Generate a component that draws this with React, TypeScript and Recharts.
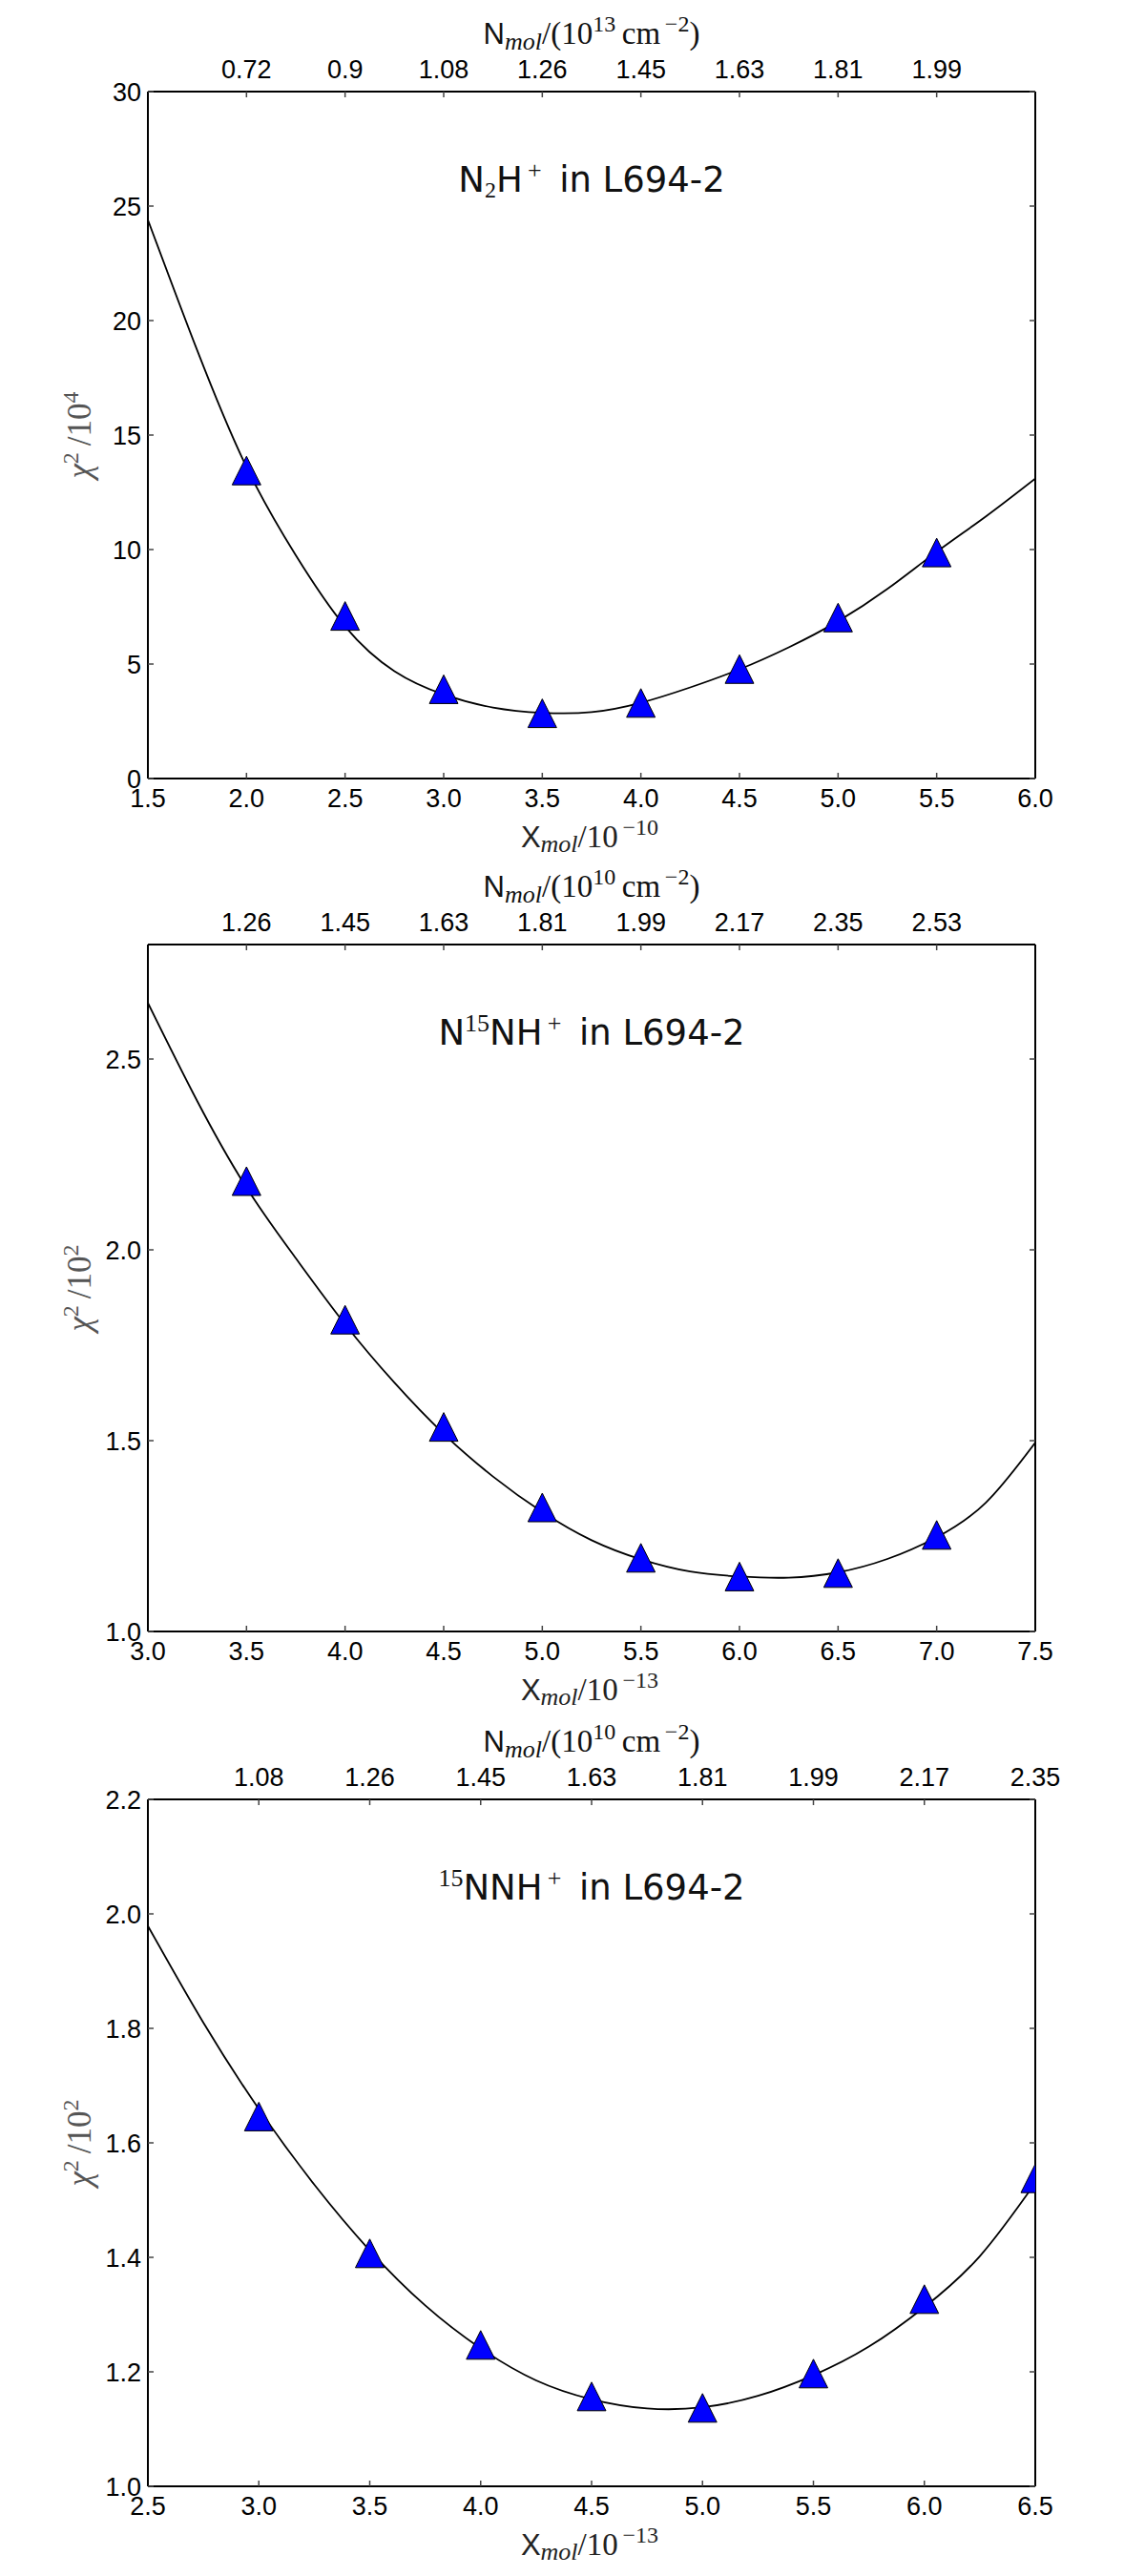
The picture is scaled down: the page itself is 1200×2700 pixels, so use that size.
import React from 'react';
import { ComposedChart, Line, Scatter, XAxis, YAxis } from 'recharts';

// ---------- Data ----------
// Panel 1: N2H+ in L694-2
const xMol1 = [2.0, 2.5, 3.0, 3.5, 4.0, 4.5, 5.0, 5.5];
const chi1 = [13.45, 7.1, 3.9, 2.85, 3.3, 4.78, 7.03, 9.87];
const fitX1 = [1.5, 1.75, 2.0, 2.25, 2.5, 2.75, 3.0, 3.25, 3.5, 3.75, 4.0, 4.25, 4.5, 4.75, 5.0, 5.25, 5.5, 5.75, 6.0];
const fitY1 = [24.4, 18.7, 13.6, 9.75, 6.64, 4.69, 3.67, 3.1, 2.87, 2.9, 3.31, 3.98, 4.77, 5.73, 6.87, 8.28, 9.9, 11.45, 13.1];
const xTicks1 = [1.5, 2.0, 2.5, 3.0, 3.5, 4.0, 4.5, 5.0, 5.5, 6.0];
const yTicks1 = [0, 5, 10, 15, 20, 25, 30];
const topPos1 = [2.0, 2.5, 3.0, 3.5, 4.0, 4.5, 5.0, 5.5];
const topLabels1 = ['0.72', '0.9', '1.08', '1.26', '1.45', '1.63', '1.81', '1.99'];

// Panel 2: N15NH+ in L694-2
const xMol2 = [3.5, 4.0, 4.5, 5.0, 5.5, 6.0, 6.5, 7.0];
const chi2 = [2.18, 1.817, 1.536, 1.325, 1.193, 1.144, 1.153, 1.253];
const fitX2 = [3.0, 3.25, 3.5, 3.75, 4.0, 4.25, 4.5, 4.75, 5.0, 5.25, 5.5, 5.75, 6.0, 6.25, 6.5, 6.75, 7.0, 7.25, 7.5];
const fitY2 = [2.647, 2.39, 2.163, 1.978, 1.805, 1.652, 1.518, 1.406, 1.313, 1.239, 1.189, 1.157, 1.144, 1.141, 1.155, 1.19, 1.247, 1.338, 1.495];
const xTicks2 = [3.0, 3.5, 4.0, 4.5, 5.0, 5.5, 6.0, 6.5, 7.0, 7.5];
const yTicks2 = [1.0, 1.5, 2.0, 2.5];
const topPos2 = [3.5, 4.0, 4.5, 5.0, 5.5, 6.0, 6.5, 7.0];
const topLabels2 = ['1.26', '1.45', '1.63', '1.81', '1.99', '2.17', '2.35', '2.53'];

// Panel 3: 15NNH+ in L694-2
const xMol3 = [3.0, 3.5, 4.0, 4.5, 5.0, 5.5, 6.0, 6.5];
const chi3 = [1.646, 1.407, 1.247, 1.157, 1.137, 1.197, 1.327, 1.538];
const fitX3 = [2.5, 2.75, 3.0, 3.25, 3.5, 3.75, 4.0, 4.25, 4.5, 4.75, 5.0, 5.25, 5.5, 5.75, 6.0, 6.25, 6.5];
const fitY3 = [1.979, 1.81, 1.659, 1.527, 1.412, 1.316, 1.241, 1.185, 1.152, 1.136, 1.138, 1.158, 1.194, 1.244, 1.313, 1.402, 1.53];
const xTicks3 = [2.5, 3.0, 3.5, 4.0, 4.5, 5.0, 5.5, 6.0, 6.5];
const yTicks3 = [1.0, 1.2, 1.4, 1.6, 1.8, 2.0, 2.2];
const topPos3 = [3.0, 3.5, 4.0, 4.5, 5.0, 5.5, 6.0, 6.5];
const topLabels3 = ['1.08', '1.26', '1.45', '1.63', '1.81', '1.99', '2.17', '2.35'];

// ---------- Styling ----------
const SANS = "'Liberation Sans', Arial, Helvetica, sans-serif";
const SERIF = "'Liberation Serif', 'DejaVu Serif', serif";
const TITLE_FONT = "'DejaVu Sans', sans-serif";
const W = 1200;
const H = 896;
const PANEL_TOPS = [0, 894, 1790];

type Seg = { t: string; m?: 'sub' | 'sup'; f?: string; s?: number; i?: boolean };

function Rich({ segs, sup, sub }: { segs: Seg[]; sup: number; sub: number }) {
  let cur = 0;
  return (
    <>
      {segs.map((sg, k) => {
        const target = sg.m === 'sup' ? -sup : sg.m === 'sub' ? sub : 0;
        const dy = target - cur;
        cur = target;
        return (
          <tspan key={k} dy={dy} fontFamily={sg.f} fontSize={sg.s} fontStyle={sg.i ? 'italic' : 'normal'}>
            {sg.t}
          </tspan>
        );
      })}
    </>
  );
}

const Triangle = (props: any) => {
  const { cx, cy } = props;
  if (cx == null || cy == null) return null;
  const s = 15;
  return (
    <polygon
      points={`${cx},${cy - s} ${cx - s},${cy + s} ${cx + s},${cy + s}`}
      fill="#0000ff"
      stroke="#000"
      strokeWidth={1}
      strokeLinejoin="miter"
    />
  );
};

type PanelCfg = {
  pts: { x: number; y: number }[];
  fit: { x: number; y: number }[];
  xDomain: [number, number];
  yDomain: [number, number];
  xTicks: number[];
  yTicks: number[];
  yFmt: (v: number) => string;
  topPos: number[];
  topLabels: string[];
  title: Seg[];
  topExp: string;
  xExp: string;
  yExp: string;
};

const zip = (xs: number[], ys: number[]) => xs.map((x, i) => ({ x, y: ys[i] }));

const panels: PanelCfg[] = [
  {
    pts: zip(xMol1, chi1),
    fit: zip(fitX1, fitY1),
    xDomain: [1.5, 6.0],
    yDomain: [0, 30],
    xTicks: xTicks1,
    yTicks: yTicks1,
    yFmt: (v) => String(v),
    topPos: topPos1,
    topLabels: topLabels1,
    title: [
      { t: 'N' },
      { t: '2', m: 'sub', f: SERIF, s: 24 },
      { t: 'H' },
      { t: '\u2009+', m: 'sup', f: SERIF, s: 26 },
      { t: '\u2002in L694-2' },
    ],
    topExp: '13',
    xExp: '10',
    yExp: '4',
  },
  {
    pts: zip(xMol2, chi2),
    fit: zip(fitX2, fitY2),
    xDomain: [3.0, 7.5],
    yDomain: [1.0, 2.8],
    xTicks: xTicks2,
    yTicks: yTicks2,
    yFmt: (v) => v.toFixed(1),
    topPos: topPos2,
    topLabels: topLabels2,
    title: [
      { t: 'N' },
      { t: '15', m: 'sup', f: SERIF, s: 26 },
      { t: 'NH' },
      { t: '\u2009+', m: 'sup', f: SERIF, s: 26 },
      { t: '\u2002in L694-2' },
    ],
    topExp: '10',
    xExp: '13',
    yExp: '2',
  },
  {
    pts: zip(xMol3, chi3),
    fit: zip(fitX3, fitY3),
    xDomain: [2.5, 6.5],
    yDomain: [1.0, 2.2],
    xTicks: xTicks3,
    yTicks: yTicks3,
    yFmt: (v) => v.toFixed(1),
    topPos: topPos3,
    topLabels: topLabels3,
    title: [
      { t: '15', m: 'sup', f: SERIF, s: 26 },
      { t: 'NNH' },
      { t: '\u2009+', m: 'sup', f: SERIF, s: 26 },
      { t: '\u2002in L694-2' },
    ],
    topExp: '10',
    xExp: '13',
    yExp: '2',
  },
];

const tickStyle = { fill: '#000', fontSize: 27, fontFamily: SANS };
const axisLineStyle = { stroke: '#000', strokeWidth: 2 };
const tickLineStyle = { stroke: '#444', strokeWidth: 1.5 };

function Panel({ cfg }: { cfg: PanelCfg }) {
  return (
    <div style={{ position: 'relative', width: W, height: H }}>
      <ComposedChart width={W} height={H} margin={{ top: 0, right: 0, bottom: 0, left: 0 }}>
        <XAxis
          xAxisId="bottom"
          orientation="bottom"
          type="number"
          dataKey="x"
          domain={cfg.xDomain}
          allowDataOverflow
          ticks={cfg.xTicks}
          interval={0}
          height={80}
          tickFormatter={(v: number) => v.toFixed(1)}
          tick={tickStyle}
          tickSize={-6}
          tickMargin={17}
          axisLine={axisLineStyle}
          tickLine={tickLineStyle}
        />
        <XAxis
          xAxisId="top"
          orientation="top"
          type="number"
          dataKey="x"
          domain={cfg.xDomain}
          allowDataOverflow
          ticks={cfg.topPos}
          interval={0}
          height={96}
          tickFormatter={(v: number) => cfg.topLabels[cfg.topPos.indexOf(v)] ?? ''}
          tick={tickStyle}
          tickSize={-6}
          tickMargin={20}
          axisLine={axisLineStyle}
          tickLine={tickLineStyle}
        />
        <YAxis
          yAxisId="left"
          orientation="left"
          type="number"
          domain={cfg.yDomain}
          allowDataOverflow
          ticks={cfg.yTicks}
          interval={0}
          width={155}
          tickFormatter={cfg.yFmt}
          tick={tickStyle}
          tickSize={-6}
          tickMargin={13}
          axisLine={axisLineStyle}
          tickLine={tickLineStyle}
        />
        <YAxis
          yAxisId="right"
          orientation="right"
          type="number"
          domain={cfg.yDomain}
          allowDataOverflow
          ticks={cfg.yTicks}
          interval={0}
          width={115}
          tickFormatter={() => ''}
          tick={tickStyle}
          tickSize={-6}
          axisLine={axisLineStyle}
          tickLine={tickLineStyle}
        />
        <Scatter
          data={cfg.pts}
          dataKey="y"
          xAxisId="bottom"
          yAxisId="left"
          shape={Triangle}
          isAnimationActive={false}
        />
        <Line
          data={cfg.fit}
          dataKey="y"
          xAxisId="bottom"
          yAxisId="left"
          type="natural"
          stroke="#000"
          strokeWidth={1.8}
          dot={false}
          activeDot={false}
          isAnimationActive={false}
        />
      </ComposedChart>
      <svg
        width={W}
        height={H}
        style={{ position: 'absolute', left: 0, top: 0, pointerEvents: 'none', overflow: 'visible' }}
      >
        {/* top axis label */}
        <text x={620} y={46} textAnchor="middle" fill="#111" fontFamily={SERIF} fontSize={33}>
          <Rich
            sup={13}
            sub={6}
            segs={[
              { t: 'N', f: SANS, s: 31 },
              { t: 'mol', m: 'sub', s: 26, i: true },
              { t: '/(10' },
              { t: cfg.topExp, m: 'sup', s: 24 },
              { t: '\u2009cm' },
              { t: '\u2009\u22122', m: 'sup', s: 24 },
              { t: ')' },
            ]}
          />
        </text>
        {/* bottom axis label */}
        <text x={618} y={888} textAnchor="middle" fill="#222" fontFamily={SERIF} fontSize={33}>
          <Rich
            sup={13}
            sub={5}
            segs={[
              { t: 'X', f: SANS, s: 31 },
              { t: 'mol', m: 'sub', s: 26, i: true },
              { t: '/10' },
              { t: '\u2009\u2212' + cfg.xExp, m: 'sup', s: 24 },
            ]}
          />
        </text>
        {/* left axis label */}
        <text
          x={95}
          y={456}
          transform="rotate(-90 95 456)"
          textAnchor="middle"
          fill="#555"
          fontFamily={SERIF}
          fontSize={35}
        >
          <Rich
            sup={13}
            sub={6}
            segs={[
              { t: '\u03c7', i: true },
              { t: '2', m: 'sup', s: 24 },
              { t: '\u2009/10' },
              { t: cfg.yExp, m: 'sup', s: 24 },
            ]}
          />
        </text>
        {/* title */}
        <text x={620} y={201} textAnchor="middle" fill="#111" fontFamily={TITLE_FONT} fontSize={37}>
          <Rich sup={14} sub={6} segs={cfg.title} />
        </text>
      </svg>
    </div>
  );
}

export default function App() {
  return (
    <div style={{ position: 'absolute', left: 0, top: 0, width: 1200, height: 2700, background: '#fff' }}>
      {panels.map((p, i) => (
        <div key={i} style={{ position: 'absolute', left: 0, top: PANEL_TOPS[i], width: W, height: H }}>
          <Panel cfg={p} />
        </div>
      ))}
    </div>
  );
}
